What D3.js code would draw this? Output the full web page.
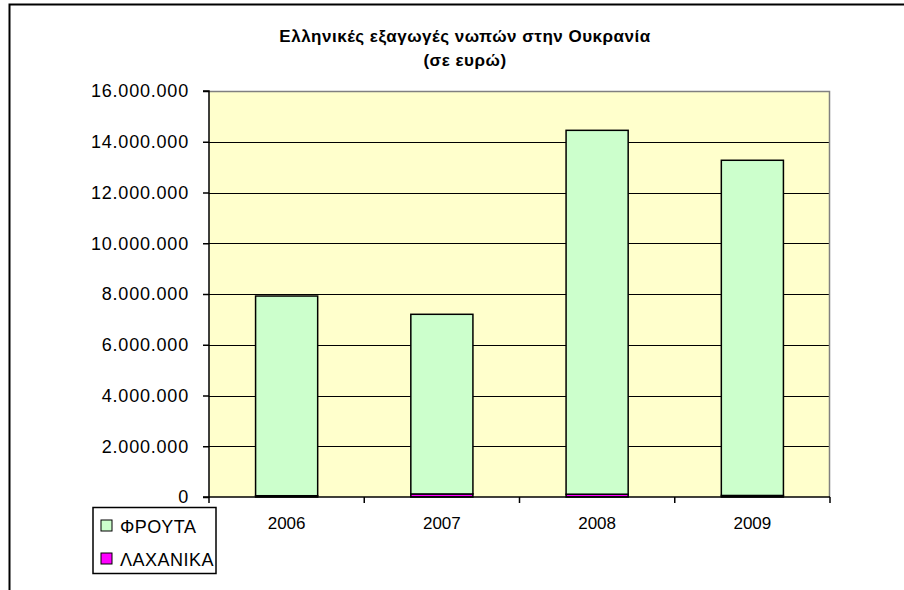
<!DOCTYPE html>
<html>
<head>
<meta charset="utf-8">
<script src="https://cdn.jsdelivr.net/npm/d3@7"></script>
<style>
  body { margin: 0; background: #fff; }
  svg { display: block; }
</style>
</head>
<body>
<svg id="chart" width="904" height="590"></svg>
<script>
const years = ["2006", "2007", "2008", "2009"];
const seriesNames = ["ΦΡΟΥΤΑ", "ΛΑΧΑΝΙΚΑ"];
const fruits = [7870000, 7080000, 14340000, 13210000];
const vegetables = [50000, 120000, 110000, 60000];
const yTicks = [0, 2000000, 4000000, 6000000, 8000000, 10000000, 12000000, 14000000, 16000000];
const titleLines = ["Ελληνικές εξαγωγές νωπών στην Ουκρανία", "(σε ευρώ)"];

const colors = { "ΦΡΟΥΤΑ": "#CCFFCC", "ΛΑΧΑΝΙΚΑ": "#FF00FF" };

const svg = d3.select("#chart");
const font = "'Liberation Sans', Arial, sans-serif";

// outer chart frame (left and top visible)
svg.append("path")
  .attr("d", "M9.5,590 V4.5 H904")
  .attr("fill", "none").attr("stroke", "#000").attr("stroke-width", 2);

const plot = { left: 209, right: 830, top: 91, bottom: 497 };

const x = d3.scaleBand().domain(years).range([plot.left, plot.right]).paddingInner(0.6).paddingOuter(0.3);
const xb = d3.scaleBand().domain(years).range([plot.left, plot.right]);
const y = d3.scaleLinear().domain([0, 16000000]).range([plot.bottom, plot.top]);

// plot background
svg.append("rect")
  .attr("x", plot.left).attr("y", plot.top)
  .attr("width", plot.right - plot.left).attr("height", plot.bottom - plot.top)
  .attr("fill", "#FFFFCC");

// gridlines
svg.append("g").selectAll("line").data(yTicks.filter(d => d > 0 && d < 16000000)).join("line")
  .attr("x1", plot.left).attr("x2", plot.right)
  .attr("y1", d => Math.round(y(d)) + 0.5).attr("y2", d => Math.round(y(d)) + 0.5)
  .attr("stroke", "#000").attr("stroke-width", 1);

// plot border top/right grey
svg.append("path")
  .attr("d", `M${plot.left},${plot.top + 0.5} H${plot.right - 0.5} V${plot.bottom}`)
  .attr("fill", "none").attr("stroke", "#808080").attr("stroke-width", 1.5);

// stacked bars
const data = years.map((yr, i) => ({ year: yr, "ΛΑΧΑΝΙΚΑ": vegetables[i], "ΦΡΟΥΤΑ": fruits[i] }));
const stack = d3.stack().keys(["ΛΑΧΑΝΙΚΑ", "ΦΡΟΥΤΑ"])(data);

svg.append("g").selectAll("g").data(stack).join("g")
  .attr("fill", d => colors[d.key])
  .selectAll("rect").data(d => d).join("rect")
  .attr("x", d => x(d.data.year))
  .attr("width", x.bandwidth())
  .attr("y", d => y(d[1]))
  .attr("height", d => y(d[0]) - y(d[1]))
  .attr("stroke", "#000").attr("stroke-width", 1.5);

// y axis
const yAxis = d3.axisLeft(y).tickValues(yTicks).tickSize(6).tickPadding(14)
  .tickFormat(d => d3.format(",")(d).replace(/,/g, "."));
const gy = svg.append("g").attr("transform", `translate(${plot.left},0)`).call(yAxis);
gy.select(".domain").attr("stroke", "#000").attr("stroke-width", 1.5).attr("d", `M-6,${plot.bottom}H0V${plot.top}H-6`);
gy.selectAll(".tick line").attr("stroke", "#000").attr("stroke-width", 1.5);
gy.selectAll("text").attr("font-family", font).attr("font-size", 18)
  .attr("letter-spacing", 0.8).attr("fill", "#000");

// x axis
const gx = svg.append("g").attr("transform", `translate(0,${plot.bottom})`);
gx.append("line").attr("x1", plot.left).attr("x2", plot.right).attr("y1", 0).attr("y2", 0)
  .attr("stroke", "#000").attr("stroke-width", 1.5);
const bounds = years.map(d => xb(d)).concat([plot.right]);
gx.selectAll("line.tk").data(bounds).join("line").attr("class", "tk")
  .attr("x1", d => d).attr("x2", d => d).attr("y1", 0).attr("y2", 6)
  .attr("stroke", "#000").attr("stroke-width", 1.5);
gx.selectAll("text").data(years).join("text")
  .attr("x", d => xb(d) + xb.bandwidth() / 2).attr("y", 32)
  .attr("text-anchor", "middle")
  .attr("font-family", font).attr("font-size", 17).text(d => d);

// title
svg.append("g").selectAll("text").data(titleLines).join("text")
  .attr("x", 465).attr("y", (d, i) => 42 + i * 24)
  .attr("text-anchor", "middle")
  .attr("font-family", font).attr("font-weight", "bold").attr("font-size", 17)
  .attr("letter-spacing", 0.5)
  .text(d => d);

// legend
const lg = svg.append("g");
lg.append("rect").attr("x", 93).attr("y", 507.5).attr("width", 123).attr("height", 66)
  .attr("fill", "#fff").attr("stroke", "#000").attr("stroke-width", 1.5);
const items = lg.selectAll("g").data(seriesNames).join("g")
  .attr("transform", (d, i) => `translate(101,${526 + i * 33})`);
items.append("rect").attr("x", 0).attr("y", -6).attr("width", 11).attr("height", 11)
  .attr("fill", d => colors[d]).attr("stroke", "#000").attr("stroke-width", 1);
items.append("text").attr("x", 19).attr("y", 7)
  .attr("font-family", font).attr("font-size", 18).attr("letter-spacing", 0.5).text(d => d);
</script>
</body>
</html>
